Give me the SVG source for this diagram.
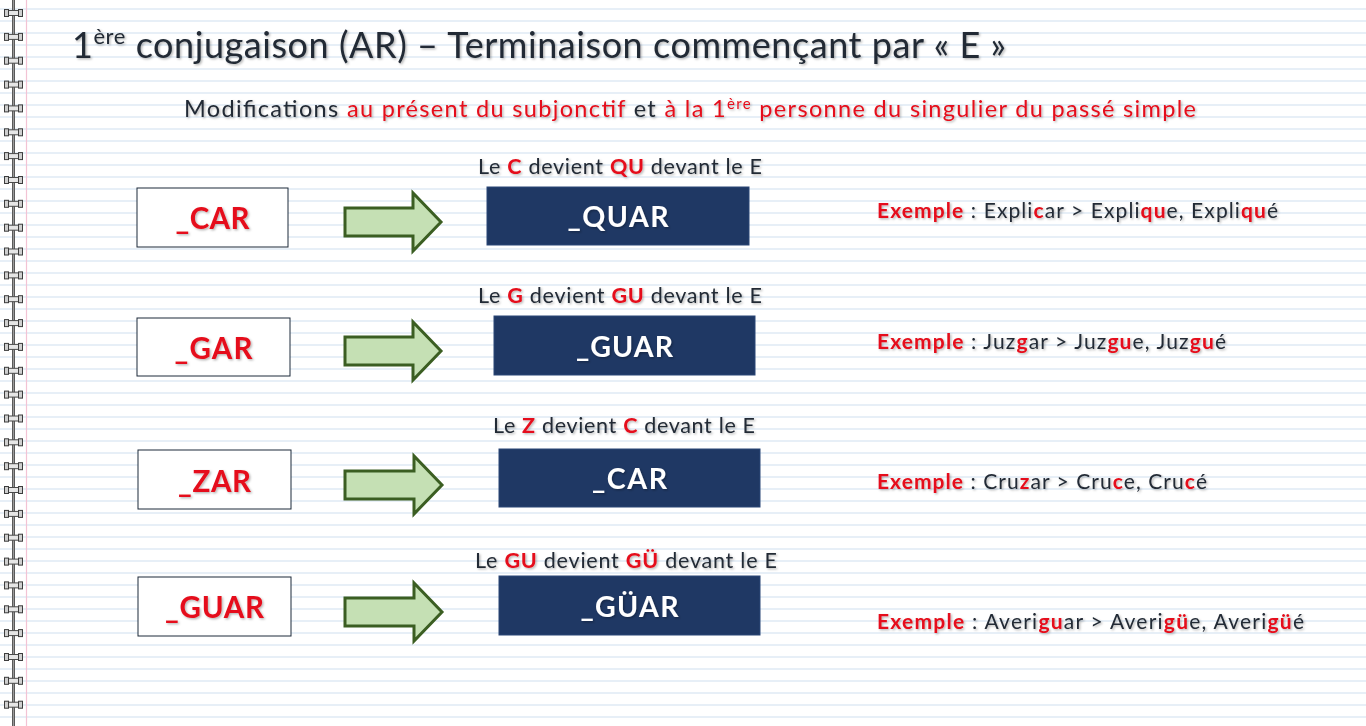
<svg xmlns="http://www.w3.org/2000/svg" xmlns:xlink="http://www.w3.org/1999/xlink" width="1366" height="726" viewBox="0 0 1366 726">
<defs>
  <style>
    text { font-family: Lato, "Open Sans", "Liberation Sans", sans-serif; }
    .dk { fill: #232b36; }
    .rd { fill: #e5101b; }
    .b { font-weight: bold; }
    .sh { filter: url(#ts); }
    .src { fill: #ffffff; stroke: #1c2a3a; stroke-width: 1; }
    .dst { fill: #1f3864; stroke: #2a4677; stroke-width: 1; }
    .srct { fill: #e5101b; font-weight: bold; font-size: 29.5px; text-anchor: middle; }
    .dstt { fill: #ffffff; font-weight: bold; font-size: 28.5px; text-anchor: middle; }
    .lbl { font-size: 21.5px; fill: #232b36; }
    .ex { font-size: 21px; fill: #232b36; }
    .arr { fill: #c5e0b4; stroke: #3b5e22; stroke-width: 3; stroke-linejoin: miter; }
  </style>
  <filter id="ts" x="-5%" y="-20%" width="110%" height="150%">
    <feDropShadow dx="1.3" dy="1.3" stdDeviation="0.9" flood-color="#000" flood-opacity="0.3"/>
  </filter>
  <pattern id="ruled" patternUnits="userSpaceOnUse" x="0" y="3" width="1366" height="12">
    <rect x="0" y="5.3" width="1366" height="1.4" fill="#dde9f4"/>
  </pattern>
  <linearGradient id="wire" x1="0" x2="1" y1="0" y2="0">
    <stop offset="0" stop-color="#3a3a3a"/>
    <stop offset="0.5" stop-color="#9a9a9a"/>
    <stop offset="1" stop-color="#3a3a3a"/>
  </linearGradient>
  <g id="ring">
    <path d="M6,-2.5 H21 V2.5 H6 Z" fill="#e6e6e6" stroke="#4a4a4a" stroke-width="1"/>
    <rect x="4.5" y="-3.5" width="4" height="7" fill="#cfcfcf" stroke="#3d3d3d" stroke-width="1"/>
    <rect x="18.5" y="-3.5" width="4" height="7" fill="#cfcfcf" stroke="#3d3d3d" stroke-width="1"/>
  </g>
</defs>

<g id="background">
  <rect x="0" y="0" width="1366" height="726" fill="#ffffff"/>
  <rect x="0" y="0" width="1366" height="726" fill="url(#ruled)"/>
  <line x1="26.5" y1="0" x2="26.5" y2="726" stroke="#f3c3d4" stroke-width="1.2"/>
  <rect x="12" y="0" width="3" height="726" fill="url(#wire)"/>
  <use xlink:href="#ring" y="13"/>
  <use xlink:href="#ring" y="36.9"/>
  <use xlink:href="#ring" y="60.7"/>
  <use xlink:href="#ring" y="84.6"/>
  <use xlink:href="#ring" y="108.4"/>
  <use xlink:href="#ring" y="132.3"/>
  <use xlink:href="#ring" y="156.1"/>
  <use xlink:href="#ring" y="180"/>
  <use xlink:href="#ring" y="203.8"/>
  <use xlink:href="#ring" y="227.7"/>
  <use xlink:href="#ring" y="251.5"/>
  <use xlink:href="#ring" y="275.4"/>
  <use xlink:href="#ring" y="299.2"/>
  <use xlink:href="#ring" y="323.1"/>
  <use xlink:href="#ring" y="346.9"/>
  <use xlink:href="#ring" y="370.8"/>
  <use xlink:href="#ring" y="394.6"/>
  <use xlink:href="#ring" y="418.5"/>
  <use xlink:href="#ring" y="442.3"/>
  <use xlink:href="#ring" y="466.2"/>
  <use xlink:href="#ring" y="490"/>
  <use xlink:href="#ring" y="513.9"/>
  <use xlink:href="#ring" y="537.7"/>
  <use xlink:href="#ring" y="561.6"/>
  <use xlink:href="#ring" y="585.4"/>
  <use xlink:href="#ring" y="609.3"/>
  <use xlink:href="#ring" y="633.1"/>
  <use xlink:href="#ring" y="657"/>
  <use xlink:href="#ring" y="680.8"/>
  <use xlink:href="#ring" y="704.7"/>
</g>

<g id="title" class="sh">
  <text x="72" y="58" font-size="36" class="dk" textLength="934">1<tspan font-size="22" dy="-14">ère</tspan><tspan dy="14"> conjugaison (AR) – Terminaison commençant par « E »</tspan></text>
</g>

<g id="subtitle" class="sh">
  <text x="184" y="117" font-size="23.5" class="dk" textLength="1012">Modifications <tspan class="rd">au présent du subjonctif</tspan> et <tspan class="rd">à la 1</tspan><tspan class="rd" font-size="15" dy="-8">ère</tspan><tspan class="rd" dy="8"> personne du singulier du passé simple</tspan></text>
</g>

<g id="connectors">
  <path class="arr" d="M345,208 H413 V193 L441,222 L413,251 V236 H345 Z"/>
  <path class="arr" d="M345,337 H413 V322 L441,351 L413,380 V365 H345 Z"/>
  <path class="arr" d="M345,471 H414 V456 L442,485 L414,514 V499 H345 Z"/>
  <path class="arr" d="M345,598 H414 V583 L442,612 L414,641 V626 H345 Z"/>
</g>

<g id="src-car">
  <rect class="src" x="137" y="188" width="151" height="59"/>
  <text class="srct sh" x="212.5" y="229" textLength="74">_CAR</text>
</g>
<g id="src-gar">
  <rect class="src" x="137" y="318" width="153" height="58"/>
  <text class="srct sh" x="213.5" y="359" textLength="78">_GAR</text>
</g>
<g id="src-zar">
  <rect class="src" x="138" y="450" width="153" height="59"/>
  <text class="srct sh" x="214.5" y="492" textLength="73">_ZAR</text>
</g>
<g id="src-guar">
  <rect class="src" x="138" y="577" width="153" height="59"/>
  <text class="srct sh" x="214.5" y="618" textLength="99">_GUAR</text>
</g>

<g id="dst-quar">
  <text class="lbl sh" x="478" y="174" textLength="284">Le <tspan class="rd b">C</tspan> devient <tspan class="rd b">QU</tspan> devant le E</text>
  <rect class="dst" x="487" y="187" width="262" height="58"/>
  <text class="dstt sh" x="618" y="227" textLength="101">_QUAR</text>
</g>
<g id="dst-guar">
  <text class="lbl sh" x="478" y="303" textLength="284">Le <tspan class="rd b">G</tspan> devient <tspan class="rd b">GU</tspan> devant le E</text>
  <rect class="dst" x="494" y="316" width="261" height="59"/>
  <text class="dstt sh" x="624.5" y="357" textLength="97">_GUAR</text>
</g>
<g id="dst-car">
  <text class="lbl sh" x="493" y="433" textLength="262">Le <tspan class="rd b">Z</tspan> devient <tspan class="rd b">C</tspan> devant le E</text>
  <rect class="dst" x="499" y="449" width="261" height="58"/>
  <text class="dstt sh" x="629.5" y="489" textLength="75">_CAR</text>
</g>
<g id="dst-gyar">
  <text class="lbl sh" x="475" y="568" textLength="302">Le <tspan class="rd b">GU</tspan> devient <tspan class="rd b">GÜ</tspan> devant le E</text>
  <rect class="dst" x="499" y="576" width="261" height="59"/>
  <text class="dstt sh" x="629.5" y="617" textLength="98">_GÜAR</text>
</g>

<g id="examples">
  <text class="ex sh" x="877" y="218" textLength="401"><tspan class="rd b">Exemple</tspan> : Expli<tspan class="rd b">c</tspan>ar &gt; Expli<tspan class="rd b">qu</tspan>e, Expli<tspan class="rd b">qu</tspan>é</text>
  <text class="ex sh" x="877" y="349" textLength="349"><tspan class="rd b">Exemple</tspan> : Juz<tspan class="rd b">g</tspan>ar &gt; Juz<tspan class="rd b">gu</tspan>e, Juz<tspan class="rd b">gu</tspan>é</text>
  <text class="ex sh" x="877" y="489" textLength="330"><tspan class="rd b">Exemple</tspan> : Cru<tspan class="rd b">z</tspan>ar &gt; Cru<tspan class="rd b">c</tspan>e, Cru<tspan class="rd b">c</tspan>é</text>
  <text class="ex sh" x="877" y="629" textLength="427"><tspan class="rd b">Exemple</tspan> : Averi<tspan class="rd b">gu</tspan>ar &gt; Averi<tspan class="rd b">gü</tspan>e, Averi<tspan class="rd b">gü</tspan>é</text>
</g>
</svg>
